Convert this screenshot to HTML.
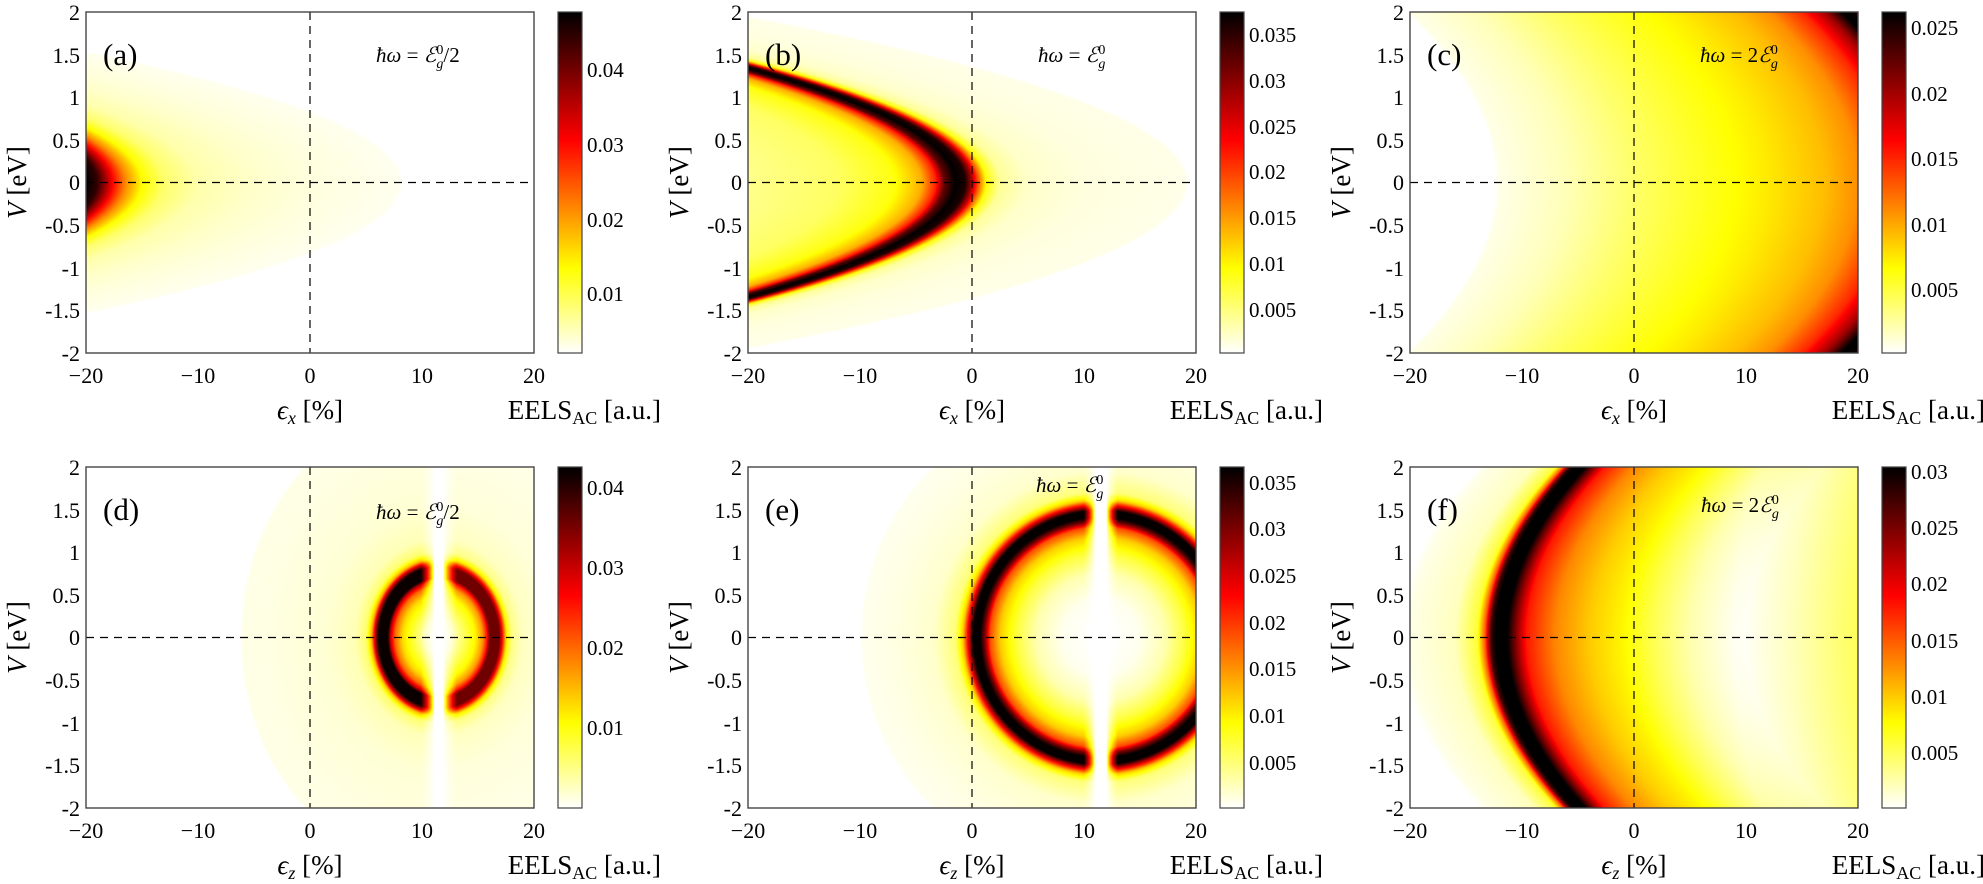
<!DOCTYPE html>
<html><head><meta charset="utf-8"><style>
html,body{margin:0;padding:0;background:#fff;}
#wrap{position:relative;width:1983px;height:884px;overflow:hidden;font-family:"Liberation Serif","DejaVu Serif",serif;}
canvas,svg{position:absolute;left:0;top:0;}
svg, svg text, svg tspan{font-family:"Liberation Serif","DejaVu Serif",serif;}
</style></head><body><div id="wrap">
<canvas id="cv" width="1983" height="884"></canvas>
<svg width="1983" height="884" viewBox="0 0 1983 884" xmlns="http://www.w3.org/2000/svg" style="font-family:'Liberation Serif',serif" fill="#000">
<defs>
<g id="axes" style="font-family:'Liberation Serif',serif">
<line x1="224" y1="0" x2="224" y2="341" stroke="#000" stroke-width="1.2" stroke-dasharray="8,6"/>
<line x1="0" y1="170.5" x2="448" y2="170.5" stroke="#000" stroke-width="1.2" stroke-dasharray="8,6"/>
<rect x="0" y="0" width="448" height="341" fill="none" stroke="#444" stroke-width="1.4"/>
<rect x="472" y="0" width="24" height="341" fill="none" stroke="#444" stroke-width="1.2"/>
<g font-size="22" text-anchor="end" style="font-family:'Liberation Serif',serif">
<text x="-6" y="8">2</text><text x="-6" y="51">1.5</text><text x="-6" y="93">1</text><text x="-6" y="136">0.5</text><text x="-6" y="178">0</text><text x="-6" y="221">-0.5</text><text x="-6" y="264">-1</text><text x="-6" y="306">-1.5</text><text x="-6" y="349">-2</text>
</g>
<g font-size="22" text-anchor="middle" style="font-family:'Liberation Serif',serif">
<text x="0" y="371">−20</text><text x="112" y="371">−10</text><text x="224" y="371">0</text><text x="336" y="371">10</text><text x="448" y="371">20</text>
</g>
<text transform="translate(-60,170.5) rotate(-90)" font-size="27" text-anchor="middle" style="font-family:'Liberation Serif',serif"><tspan font-style="italic">V</tspan> [eV]</text>
<text x="575" y="407" font-size="27" text-anchor="end" style="font-family:'Liberation Serif',serif">EELS<tspan font-size="18" dy="5">AC</tspan><tspan dy="-5"> [a.u.]</tspan></text>
</g>
</defs>

<!-- (a) -->
<g transform="translate(86,12)">
<use href="#axes"/>
<text x="224" y="407" font-size="27" text-anchor="middle"><tspan font-style="italic">ϵ</tspan><tspan font-size="18" dy="5" font-style="italic">x</tspan><tspan dy="-5"> [%]</tspan></text>
<text x="17" y="53" font-size="31">(a)</text>
<text x="290" y="50" font-size="21"><tspan font-style="italic">ħω</tspan> = <tspan font-style="italic">ℰ</tspan><tspan font-size="14" dy="6" font-style="italic">g</tspan><tspan font-size="14" dx="-7" dy="-14">0</tspan><tspan dy="8">/2</tspan></text>
<g font-size="21"><text x="501" y="289">0.01</text><text x="501" y="215">0.02</text><text x="501" y="140">0.03</text><text x="501" y="65">0.04</text></g>
</g>
<!-- (b) -->
<g transform="translate(748,12)">
<use href="#axes"/>
<text x="224" y="407" font-size="27" text-anchor="middle"><tspan font-style="italic">ϵ</tspan><tspan font-size="18" dy="5" font-style="italic">x</tspan><tspan dy="-5"> [%]</tspan></text>
<text x="17" y="53" font-size="31">(b)</text>
<text x="290" y="50" font-size="21"><tspan font-style="italic">ħω</tspan> = <tspan font-style="italic">ℰ</tspan><tspan font-size="14" dy="6" font-style="italic">g</tspan><tspan font-size="14" dx="-7" dy="-14">0</tspan></text>
<g font-size="21"><text x="501" y="305">0.005</text><text x="501" y="259">0.01</text><text x="501" y="213">0.015</text><text x="501" y="167">0.02</text><text x="501" y="122">0.025</text><text x="501" y="76">0.03</text><text x="501" y="30">0.035</text></g>
</g>
<!-- (c) -->
<g transform="translate(1410,12)">
<use href="#axes"/>
<text x="224" y="407" font-size="27" text-anchor="middle"><tspan font-style="italic">ϵ</tspan><tspan font-size="18" dy="5" font-style="italic">x</tspan><tspan dy="-5"> [%]</tspan></text>
<text x="17" y="53" font-size="31">(c)</text>
<text x="290" y="50" font-size="21"><tspan font-style="italic">ħω</tspan> = 2<tspan font-style="italic">ℰ</tspan><tspan font-size="14" dy="6" font-style="italic">g</tspan><tspan font-size="14" dx="-7" dy="-14">0</tspan></text>
<g font-size="21"><text x="501" y="285">0.005</text><text x="501" y="220">0.01</text><text x="501" y="154">0.015</text><text x="501" y="89">0.02</text><text x="501" y="23">0.025</text></g>
</g>
<!-- (d) -->
<g transform="translate(86,467)">
<use href="#axes"/>
<text x="224" y="407" font-size="27" text-anchor="middle"><tspan font-style="italic">ϵ</tspan><tspan font-size="18" dy="5" font-style="italic">z</tspan><tspan dy="-5"> [%]</tspan></text>
<text x="17" y="53" font-size="31">(d)</text>
<text x="290" y="52" font-size="21"><tspan font-style="italic">ħω</tspan> = <tspan font-style="italic">ℰ</tspan><tspan font-size="14" dy="6" font-style="italic">g</tspan><tspan font-size="14" dx="-7" dy="-14">0</tspan><tspan dy="8">/2</tspan></text>
<g font-size="21"><text x="501" y="268">0.01</text><text x="501" y="188">0.02</text><text x="501" y="108">0.03</text><text x="501" y="28">0.04</text></g>
</g>
<!-- (e) -->
<g transform="translate(748,467)">
<use href="#axes"/>
<text x="224" y="407" font-size="27" text-anchor="middle"><tspan font-style="italic">ϵ</tspan><tspan font-size="18" dy="5" font-style="italic">z</tspan><tspan dy="-5"> [%]</tspan></text>
<text x="17" y="53" font-size="31">(e)</text>
<text x="288" y="25" font-size="21"><tspan font-style="italic">ħω</tspan> = <tspan font-style="italic">ℰ</tspan><tspan font-size="14" dy="6" font-style="italic">g</tspan><tspan font-size="14" dx="-7" dy="-14">0</tspan></text>
<g font-size="21"><text x="501" y="303">0.005</text><text x="501" y="256">0.01</text><text x="501" y="209">0.015</text><text x="501" y="163">0.02</text><text x="501" y="116">0.025</text><text x="501" y="69">0.03</text><text x="501" y="23">0.035</text></g>
</g>
<!-- (f) -->
<g transform="translate(1410,467)">
<use href="#axes"/>
<text x="224" y="407" font-size="27" text-anchor="middle"><tspan font-style="italic">ϵ</tspan><tspan font-size="18" dy="5" font-style="italic">z</tspan><tspan dy="-5"> [%]</tspan></text>
<text x="17" y="53" font-size="31">(f)</text>
<text x="291" y="45" font-size="21"><tspan font-style="italic">ħω</tspan> = 2<tspan font-style="italic">ℰ</tspan><tspan font-size="14" dy="6" font-style="italic">g</tspan><tspan font-size="14" dx="-7" dy="-14">0</tspan></text>
<g font-size="21"><text x="501" y="293">0.005</text><text x="501" y="237">0.01</text><text x="501" y="181">0.015</text><text x="501" y="124">0.02</text><text x="501" y="68">0.025</text><text x="501" y="12">0.03</text></g>
</g>
</svg>
</div>
<script>
(function(){
var cv=document.getElementById('cv'),ctx=cv.getContext('2d');
function it(t,u){if(u<=t[0][0])return t[0][1];for(var i=1;i<t.length;i++){if(u<=t[i][0]){var a=t[i-1],b=t[i];return a[1]+(b[1]-a[1])*(u-a[0])/(b[0]-a[0]);}}return t[t.length-1][1];}
function cl(v){return v<0?0:v>1?1:v;}
function cmap(t){t=cl(t);return [255*cl(1-(t-0.625)/0.375),255*cl(1-(t-0.25)/0.375),255*cl(1-t/0.25)];}
var tA=[[-21,0.047],[-20,0.046],[-19,0.043],[-18.3,0.036],[-17.5,0.028],[-16.5,0.02],[-15,0.012],[-13,0.007],[-10,0.0042],[-5,0.0028],[0,0.002],[5,0.0015],[8,0.0012],[8.5,0],[100,0]];
var tB=[[-80,0.003],[-20,0.0045],[-12,0.006],[-7,0.009],[-4.5,0.014],[-3.2,0.022],[-2.5,0.032],[-1.5,0.0375],[-0.6,0.036],[0,0.028],[0.6,0.018],[1.3,0.009],[2.5,0.004],[5,0.0022],[10,0.0015],[19,0.0011],[19.5,0],[100,0]];
var tC=[[-60,0],[-12.5,0],[-12,0.0008],[-6,0.002],[0,0.004],[6,0.0058],[12,0.0075],[17,0.0092],[20,0.011],[23,0.015],[25,0.02],[26.5,0.0262],[27.5,0.026],[28.5,0.022],[40,0.015]];
var tD=[[0,0],[0.25,0.003],[0.45,0.008],[0.65,0.013],[0.78,0.02],[0.86,0.03],[0.91,0.042],[1.08,0.042],[1.14,0.03],[1.2,0.015],[1.3,0.006],[1.5,0.003],[2,0.0018],[3,0.0012],[3.5,0.001],[3.55,0],[100,0]];
var tE=[[0,0],[0.3,0.0008],[0.5,0.003],[0.65,0.007],[0.78,0.012],[0.86,0.019],[0.9,0.03],[0.935,0.0365],[0.99,0.0365],[1.03,0.024],[1.07,0.012],[1.13,0.005],[1.3,0.002],[1.6,0.0012],[1.85,0.0008],[1.87,0],[100,0]];
var tF=[[-60,0],[-21,0],[-20,0.0008],[-16,0.002],[-14,0.006],[-13.3,0.015],[-12.8,0.027],[-12.4,0.0304],[-11.3,0.0304],[-10.6,0.025],[-9.6,0.018],[-7,0.013],[-4,0.01],[-1,0.008],[2,0.005],[5,0.0025],[8,0.001],[10,0],[100,0]];
var tF2=[[-100,0],[9,0],[11,0.0008],[14,0.002],[17,0.0035],[20,0.005]];
function ring(x,y,cx,a,b,tab,g0,g1,rs){var dx=x-cx,r=Math.sqrt(dx*dx/(a*a)+y*y/(b*b));var h=cl((Math.abs(dx)-g0)/g1);var v=it(tab,r)*Math.pow(h,0.7);if(dx>0)v*=rs;return v;}
var P=[
{L:86,T:12,vmin:0.0005,vmax:0.0462,f:function(x,y){return it(tA,x+12*y*y);}},
{L:748,T:12,vmin:0.0003,vmax:0.0375,f:function(x,y){return it(tB,x+10.4*y*y);}},
{L:1410,T:12,vmin:0.0002,vmax:0.0262,f:function(x,y){return it(tC,x+2*y*y);}},
{L:86,T:467,vmin:0.0,vmax:0.0426,f:function(x,y){return ring(x,y,11.5,5,0.77,tD,0.4,1.2,0.85);}},
{L:748,T:467,vmin:0.0002,vmax:0.0367,f:function(x,y){return ring(x,y,11.5,11.5,1.506,tE,0.5,1.0,1);}},
{L:1410,T:467,vmin:0.0001,vmax:0.0304,f:function(x,y){return it(tF,x-1.75*y*y)+it(tF2,x-0.6*y*y);}}
];
var W=448,H=341;
P.forEach(function(p){
 var im=ctx.createImageData(W,H),d=im.data;
 for(var j=0;j<H;j++){var y=2-4*(j+0.5)/H;for(var i=0;i<W;i++){var x=-20+40*(i+0.5)/W;var v=p.f(x,y);var c=cmap((v-p.vmin)/(p.vmax-p.vmin));var k=(j*W+i)*4;d[k]=c[0];d[k+1]=c[1];d[k+2]=c[2];d[k+3]=255;}}
 ctx.putImageData(im,p.L,p.T);
 var cb=ctx.createImageData(24,H),e=cb.data;
 for(var j2=0;j2<H;j2++){var c2=cmap(1-(j2+0.5)/H);for(var i2=0;i2<24;i2++){var k2=(j2*24+i2)*4;e[k2]=c2[0];e[k2+1]=c2[1];e[k2+2]=c2[2];e[k2+3]=255;}}
 ctx.putImageData(cb,p.L+472,p.T);
});
})();
</script>
</body></html>
